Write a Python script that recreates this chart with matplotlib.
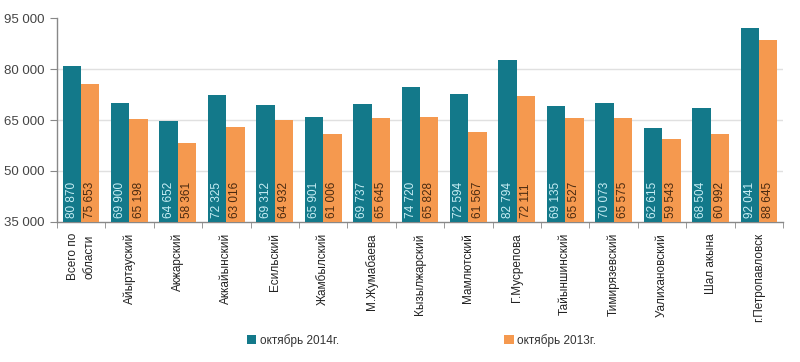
import matplotlib
matplotlib.use("Agg")
import matplotlib.pyplot as plt
import numpy as np
from matplotlib.ticker import FuncFormatter

plt.rcParams["font.family"] = ["Liberation Sans", "DejaVu Sans"]

# ------------------------------------------------------------------ data
districts = [
    "Всего по\nобласти", "Айыртауский", "Акжарский", "Аккайынский",
    "Есильский", "Жамбылский", "М.Жумабаева", "Кызылжарский",
    "Мамлютский", "Г.Мусрепова", "Тайыншинский", "Тимирязевский",
    "Уалихановский", "Шал акына", "г.Петропавловск",
]
oct_2014 = [80870, 69900, 64652, 72325, 69312, 65901, 69737, 74720,
            72594, 82794, 69135, 70073, 62615, 68504, 92041]
oct_2013 = [75653, 65198, 58361, 63016, 64932, 61006, 65645, 65828,
            61567, 72111, 65527, 65575, 59543, 60992, 88645]
series_names = ["октябрь 2014г.", "октябрь 2013г."]
y_ticks = [35000, 50000, 65000, 80000, 95000]

TEAL = "#13798a"
ORANGE = "#f5994f"

fig = plt.figure(figsize=(8.0, 3.62), dpi=100)
ax = fig.add_axes([0.071, 0.387, 0.908, 0.563])

x = np.arange(len(districts))
w = 0.38
b1 = ax.bar(x - w / 2, oct_2014, width=w, color=TEAL, label=series_names[0],
            zorder=3)
b2 = ax.bar(x + w / 2, oct_2013, width=w, color=ORANGE, label=series_names[1],
            zorder=3)


def fmt(v):
    return f"{v:,}".replace(",", " ")


# value labels sit at the bottom of each bar, rotated
for bars, vals, col in ((b1, oct_2014, "#c8eef5"), (b2, oct_2013, "#4a2a10")):
    for rect, v in zip(bars, vals):
        ax.annotate(fmt(v), xy=(rect.get_x() + rect.get_width() / 2, y_ticks[0]),
                    xytext=(0, 3), textcoords="offset points",
                    rotation=90, ha="center", va="bottom",
                    fontsize=8.5, color=col, zorder=4)

ax.set_ylim(y_ticks[0], y_ticks[-1])
ax.set_yticks(y_ticks)
ax.yaxis.set_major_formatter(FuncFormatter(lambda v, _: fmt(int(v))))
ax.set_xlim(-0.5, len(districts) - 0.5)

ax.set_xticks(x)
ax.set_xticklabels(districts, rotation=90, fontsize=8.5, color="#222222",
                   linespacing=1.5)
ax.tick_params(axis="x", length=0, pad=8)
ax.set_xticks(np.arange(len(districts) + 1) - 0.5, minor=True)
ax.tick_params(axis="x", which="minor", length=4, color="#888888")
ax.tick_params(axis="y", length=5, color="#888888", labelsize=9.5,
               labelcolor="#444444", pad=4)

# gridlines only between the bottom and top ticks
for yv in y_ticks[1:-1]:
    ax.axhline(yv, color="#e0e0e0", linewidth=1.0, zorder=0)
for s in ("top", "right"):
    ax.spines[s].set_visible(False)
for s in ("left", "bottom"):
    ax.spines[s].set_color("#888888")
    ax.spines[s].set_linewidth(1.0)

fig.legend(handles=[b1, b2], loc="center", bbox_to_anchor=(0.527, 0.06),
           ncol=2, frameon=False, fontsize=8.5, handlelength=0.8,
           handleheight=0.8, handletextpad=0.3, columnspacing=14,
           labelcolor="#333333")

fig.savefig("out.png", dpi=100)
